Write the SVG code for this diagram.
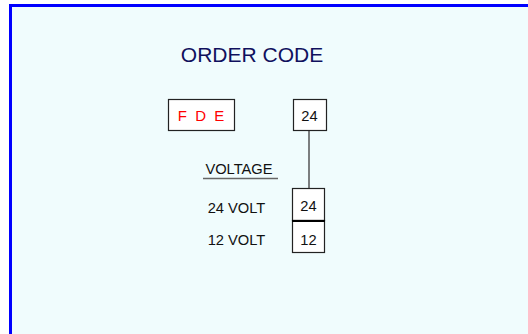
<svg xmlns="http://www.w3.org/2000/svg" width="528" height="334" viewBox="0 0 528 334">
<style>
text{font-family:"Liberation Sans",Arial,sans-serif;}
.box{fill:#ffffff;stroke:#222222;stroke-width:1.2;}
.lbl{font-size:14.7px;fill:#111111;text-anchor:middle;}
.line{stroke:#555555;stroke-width:1.5;fill:none;}
</style>
<rect x="0" y="0" width="528" height="334" fill="#ffffff"/>
<rect x="10.5" y="5.5" width="540" height="340" fill="#f0fcfd" stroke="#0000ff" stroke-width="3"/>
<text x="252" y="62" font-size="21" fill="#10105e" text-anchor="middle">ORDER CODE</text>
<g id="connectors">
<line class="line" x1="309" y1="131" x2="309" y2="188"/>
<line x1="203" y1="178.5" x2="278" y2="178.5" stroke="#666666" stroke-width="1.5"/>
</g>
<g id="fde">
<rect class="box" x="168.5" y="99.5" width="66" height="31"/>
<text x="201" y="121" font-size="15" fill="#ff0000" text-anchor="middle" xml:space="preserve">F  D  E</text>
</g>
<g id="code24">
<rect class="box" x="293.5" y="99.5" width="33" height="31"/>
<text class="lbl" x="309.5" y="121">24</text>
</g>
<g id="voltage">
<text class="lbl" x="239" y="174">VOLTAGE</text>
</g>
<g id="opt24">
<rect class="box" x="292.5" y="188.5" width="32" height="32"/>
<text class="lbl" x="308.5" y="211">24</text>
<text class="lbl" x="236.5" y="213">24 VOLT</text>
</g>
<g id="opt12">
<rect class="box" x="292.5" y="220.5" width="32" height="32"/>
<text class="lbl" x="308.5" y="245">12</text>
<text class="lbl" x="236.5" y="245">12 VOLT</text>
<line x1="292" y1="221" x2="325" y2="221" stroke="#000000" stroke-width="2"/>
</g>
</svg>
